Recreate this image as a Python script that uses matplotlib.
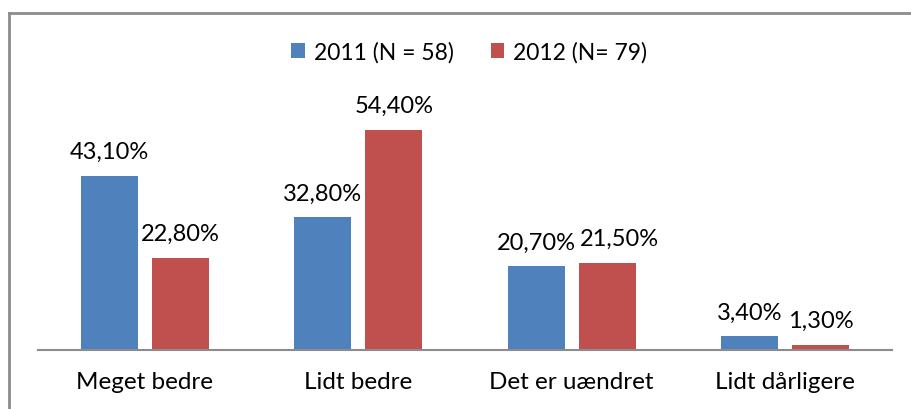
import numpy as np
import matplotlib
import matplotlib.pyplot as plt
from matplotlib.lines import Line2D

plt.rcParams["font.family"] = ["Lato", "DejaVu Sans"]

categories = ["Meget bedre", "Lidt bedre", "Det er uændret", "Lidt dårligere"]
values_2011 = [43.1, 32.8, 20.7, 3.4]
values_2012 = [22.8, 54.4, 21.5, 1.3]
series_names = ["2011 (N = 58)", "2012 (N= 79)"]
colors = ["#4F81BD", "#C0504D"]

fig = plt.figure(figsize=(9.12, 4.10), dpi=100)
ax = fig.add_axes([38 / 912, 59 / 410, 854 / 912, 290 / 410])

x = np.arange(len(categories))
w = 0.267
off = (w + 0.066) / 2
for k, (vals, dx, c, name) in enumerate([(values_2011, -off, colors[0], series_names[0]),
                                         (values_2012, off, colors[1], series_names[1])]):
    bars = ax.bar(x + dx, vals, width=w, color=c, label=name)
    for i, (b, v) in enumerate(zip(bars, vals)):
        # nudge labels apart where they would collide (like Excel does)
        shift = 9 if (k == 1 and i == 2) else 0
        ax.annotate(f"{v:.2f}%".replace(".", ","),
                    (b.get_x() + b.get_width() / 2, v),
                    xytext=(shift, 10), textcoords="offset points",
                    ha="center", va="bottom", fontsize=17, color="#000000")

ax.set_xlim(-0.5, len(categories) - 0.5)
ax.set_ylim(0, 290 / 4.04)
ax.set_yticks([])
ax.set_xticks(x)
ax.set_xticklabels(categories, fontsize=17.5)
ax.tick_params(axis="x", length=0, pad=15)
for s in ["top", "right", "left"]:
    ax.spines[s].set_visible(False)
ax.spines["bottom"].set_color("#8C8C8C")
ax.spines["bottom"].set_linewidth(1.5)

ax.legend(loc="center", bbox_to_anchor=(0.505, (410 - 53 - 59) / 290), ncol=2,
          frameon=False, fontsize=16.5, handlelength=0.6, handleheight=0.6,
          handletextpad=0.4, columnspacing=1.6)

# outer chart border (left and top visible)
fig.add_artist(Line2D([9.5 / 912, 9.5 / 912], [0, 1 - 14 / 410],
                      transform=fig.transFigure, color="#8C8C8C", lw=2))
fig.add_artist(Line2D([9.5 / 912, 1], [1 - 14 / 410, 1 - 14 / 410],
                      transform=fig.transFigure, color="#8C8C8C", lw=2))

fig.savefig("out.png", dpi=100)
